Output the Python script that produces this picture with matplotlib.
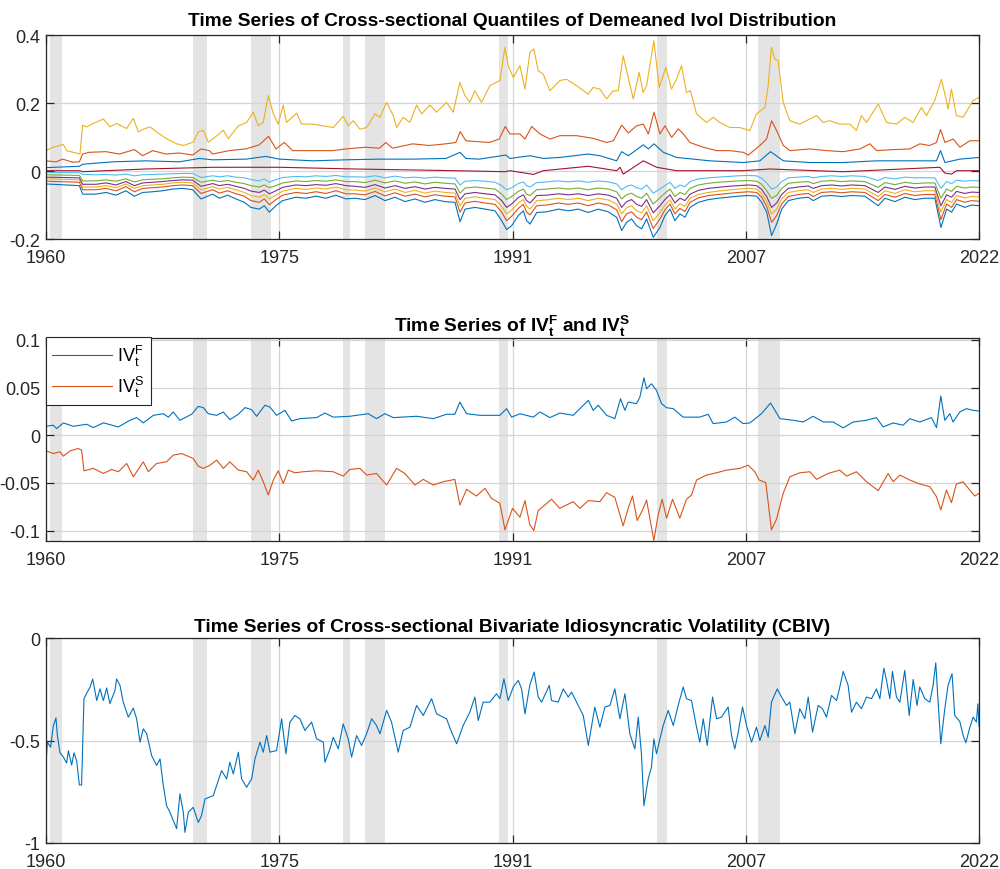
import numpy as np
import matplotlib
matplotlib.use('Agg')
import matplotlib.pyplot as plt

plt.rcParams['font.family'] = ['Liberation Sans', 'DejaVu Sans']
plt.rcParams['mathtext.fontset'] = 'custom'
plt.rcParams['mathtext.rm'] = 'Liberation Sans'
plt.rcParams['mathtext.it'] = 'Liberation Sans'
plt.rcParams['mathtext.bf'] = 'Liberation Sans:bold'

# NBER recessions (start, end) in decimal years
recessions = [(1960.25, 1961.08), (1969.92, 1970.86), (1973.83, 1975.17), (1980.03, 1980.5),
              (1981.5, 1982.86), (1990.55, 1991.17), (2001.2, 2001.87), (2007.98, 2009.5)]

# ---- top panel: quantiles of demeaned ivol ----
q_top_years = [1960.0, 1960.49, 1961.17, 1961.39, 1962.29, 1962.47, 1962.74, 1963.19, 1963.87, 1964.31,
               1964.76, 1965.44, 1965.89, 1966.22, 1966.56, 1967.01, 1967.46, 1968.13, 1968.81, 1969.26,
               1969.93, 1970.27, 1970.61, 1970.94, 1971.28, 1971.96, 1972.29, 1972.97, 1973.53, 1973.98,
               1974.31, 1974.65, 1974.99, 1975.33, 1975.66, 1976.0, 1976.22, 1976.9, 1977.24, 1978.02,
               1978.7, 1979.37, 1980.04, 1980.38, 1980.72, 1981.17, 1981.62, 1982.18, 1982.52, 1982.97,
               1983.42, 1983.64, 1984.09, 1984.54, 1984.99, 1985.33, 1985.89, 1986.34, 1987.01, 1987.46,
               1987.91, 1988.25, 1988.58, 1988.92, 1989.37, 1989.93, 1990.61, 1990.95, 1991.17, 1991.51,
               1991.96, 1992.3, 1992.63, 1992.9, 1993.19, 1993.53, 1993.98, 1994.65, 1995.1, 1995.78,
               1996.56, 1996.9, 1997.35, 1997.8, 1998.25, 1998.59, 1998.92, 1999.26, 1999.6, 2000.0,
               2000.27, 2000.5, 2000.99, 2001.35, 2001.8, 2002.18, 2002.52, 2002.86, 2003.19, 2003.46,
               2003.87, 2004.54, 2004.99, 2005.44, 2006.11, 2006.79, 2007.46, 2007.91, 2008.48, 2008.7,
               2008.92, 2009.15, 2009.37, 2009.71, 2010.16, 2010.83, 2011.28, 2011.96, 2012.41, 2012.85,
               2013.53, 2014.2, 2014.65, 2014.99, 2015.33, 2016.12, 2016.68, 2017.35, 2017.91, 2018.47,
               2019.04, 2019.37, 2019.93, 2020.38, 2020.72, 2020.83, 2021.06, 2021.39, 2021.84, 2022.52,
               2022.92]
q_top = [0.06, 0.07, 0.078, 0.06, 0.05, 0.135, 0.13, 0.14, 0.153, 0.13,
         0.14, 0.125, 0.155, 0.115, 0.123, 0.13, 0.115, 0.095, 0.08, 0.075,
         0.085, 0.115, 0.12, 0.085, 0.095, 0.12, 0.095, 0.133, 0.143, 0.173,
         0.133, 0.143, 0.222, 0.168, 0.138, 0.194, 0.143, 0.17, 0.138, 0.138,
         0.133, 0.128, 0.161, 0.133, 0.148, 0.123, 0.128, 0.168, 0.158, 0.202,
         0.163, 0.128, 0.158, 0.143, 0.194, 0.168, 0.194, 0.173, 0.202, 0.173,
         0.261, 0.222, 0.202, 0.236, 0.202, 0.251, 0.266, 0.364, 0.31, 0.275,
         0.31, 0.241, 0.349, 0.359, 0.295, 0.285, 0.236, 0.266, 0.27, 0.251,
         0.226, 0.246, 0.241, 0.212, 0.236, 0.236, 0.339, 0.275, 0.212, 0.29,
         0.231, 0.251, 0.383, 0.246, 0.305, 0.241, 0.27, 0.31, 0.231, 0.236,
         0.168, 0.143, 0.158, 0.143, 0.128, 0.128, 0.119, 0.168, 0.187, 0.251,
         0.364, 0.329, 0.325, 0.202, 0.148, 0.138, 0.148, 0.163, 0.143, 0.148,
         0.138, 0.138, 0.119, 0.163, 0.143, 0.197, 0.143, 0.138, 0.158, 0.143,
         0.187, 0.163, 0.207, 0.27, 0.207, 0.182, 0.241, 0.163, 0.158, 0.207,
         0.217]

q_second_years = [1960.0, 1960.67, 1961.12, 1961.8, 1962.25, 1962.47, 1962.92, 1964.04, 1964.94, 1965.96,
                  1966.52, 1967.19, 1968.09, 1968.99, 1969.89, 1970.45, 1971.01, 1971.24, 1972.36, 1973.48,
                  1974.38, 1975.01, 1975.51, 1976.07, 1976.63, 1977.98, 1979.33, 1980.22, 1981.57, 1982.47,
                  1982.92, 1983.37, 1984.72, 1985.84, 1986.97, 1987.64, 1987.93, 1988.31, 1989.21, 1989.89,
                  1990.56, 1990.97, 1991.29, 1991.96, 1992.3, 1992.75, 1993.31, 1993.99, 1994.66, 1995.78,
                  1996.91, 1997.81, 1998.26, 1998.82, 1999.27, 1999.83, 2000.28, 2000.62, 2001.0, 2001.4,
                  2001.74, 2002.19, 2002.64, 2002.98, 2003.42, 2004.32, 2005.22, 2006.12, 2007.02, 2007.36,
                  2008.14, 2008.59, 2008.93, 2009.27, 2009.72, 2010.17, 2011.51, 2012.64, 2013.76, 2014.89,
                  2015.56, 2016.01, 2017.13, 2018.26, 2018.93, 2019.6, 2020.05, 2020.32, 2020.62, 2021.18,
                  2021.63, 2022.3, 2022.92]
q_second = [0.03, 0.027, 0.035, 0.026, 0.027, 0.05, 0.055, 0.057, 0.05, 0.063,
            0.045, 0.06, 0.05, 0.053, 0.047, 0.065, 0.06, 0.05, 0.06, 0.065,
            0.077, 0.102, 0.065, 0.084, 0.06, 0.06, 0.06, 0.065, 0.07, 0.067,
            0.084, 0.067, 0.08, 0.075, 0.08, 0.084, 0.116, 0.089, 0.086, 0.084,
            0.094, 0.131, 0.109, 0.109, 0.094, 0.131, 0.109, 0.094, 0.104, 0.104,
            0.096, 0.084, 0.089, 0.135, 0.112, 0.133, 0.138, 0.109, 0.173, 0.109,
            0.133, 0.099, 0.124, 0.109, 0.084, 0.07, 0.06, 0.06, 0.055, 0.047,
            0.075, 0.094, 0.148, 0.119, 0.075, 0.06, 0.065, 0.06, 0.057, 0.065,
            0.08, 0.06, 0.063, 0.065, 0.08, 0.075, 0.084, 0.122, 0.084, 0.094,
            0.07, 0.089, 0.089]

q_third_years = [1960.0, 1962.25, 1962.47, 1964.49, 1966.74, 1968.99, 1970.34, 1971.24, 1973.48, 1974.83,
                 1975.73, 1977.98, 1980.22, 1982.47, 1984.72, 1986.97, 1987.93, 1988.31, 1989.21, 1991.01,
                 1991.29, 1992.64, 1993.54, 1994.66, 1996.57, 1997.36, 1998.48, 1998.82, 1999.27, 2000.28,
                 2000.62, 2001.0, 2001.63, 2002.53, 2004.77, 2007.02, 2008.14, 2008.86, 2009.72, 2011.51,
                 2013.76, 2016.01, 2018.26, 2020.05, 2020.32, 2020.62, 2021.63, 2022.92]
q_third = [0.01, 0.014, 0.02, 0.027, 0.03, 0.027, 0.037, 0.033, 0.035, 0.043,
           0.035, 0.03, 0.033, 0.035, 0.035, 0.037, 0.055, 0.037, 0.035, 0.047,
           0.037, 0.045, 0.037, 0.04, 0.05, 0.045, 0.03, 0.057, 0.045, 0.077,
           0.065, 0.08, 0.055, 0.04, 0.03, 0.025, 0.03, 0.057, 0.03, 0.025,
           0.025, 0.03, 0.03, 0.03, 0.06, 0.025, 0.035, 0.04]

q_mid_years = [1960.0, 1962.25, 1962.47, 1966.74, 1971.24, 1973.48, 1975.73, 1980.84, 1987.58, 1990.95,
               1991.29, 1992.86, 1993.54, 1996.57, 1998.48, 1998.71, 1998.93, 2000.28, 2001.18, 2002.53,
               2007.02, 2008.82, 2013.76, 2020.28, 2020.61, 2021.07, 2021.4, 2022.92]
q_mid = [0.001, 0.001, -0.002, 0.006, 0.011, 0.011, 0.011, 0.006, 0.001, -0.002,
         0.001, -0.01, 0.001, 0.014, 0.001, 0.011, -0.009, 0.03, 0.011, 0.001,
         0.001, 0.006, -0.002, 0.011, -0.006, -0.009, 0.001, 0.001]

low_years = [1960.0, 1962.25, 1962.47, 1963.37, 1964.04, 1964.72, 1965.39, 1965.96, 1966.52, 1967.19,
             1967.87, 1968.54, 1969.21, 1969.89, 1970.45, 1971.24, 1971.69, 1972.25, 1972.81, 1973.37,
             1973.82, 1974.38, 1974.72, 1975.06, 1975.51, 1975.96, 1976.85, 1977.53, 1978.2, 1978.88,
             1979.55, 1980.22,
             1980.84, 1981.51, 1982.19, 1982.86, 1983.54, 1984.21, 1984.88, 1985.56, 1986.23, 1986.91,
             1987.58, 1987.92, 1988.26, 1988.93, 1989.6, 1990.28, 1990.73, 1991.06, 1991.4, 1991.85,
             1992.19, 1992.41, 1992.64, 1993.09, 1993.76, 1994.55, 1995.22, 1995.9, 1996.57, 1997.24,
             1997.92, 1998.48, 1998.82, 1999.15, 1999.49, 1999.83, 2000.17, 2000.5, 2000.95, 2001.4,
             2001.74, 2002.08, 2002.41, 2002.75, 2003.09, 2003.43, 2003.99, 2004.66, 2005.34, 2006.01,
             2006.68, 2007.36, 2007.92, 2008.26, 2008.6, 2008.93, 2009.27, 2009.61, 2010.06, 2010.73,
             2011.4, 2011.74, 2012.3, 2012.98, 2013.65, 2014.33, 2015.22, 2016.12, 2016.57, 2017.25,
             2017.92, 2018.59, 2019.27, 2019.94, 2020.35, 2020.73, 2021.07, 2021.4, 2021.96, 2022.41,
             2022.92]
q_low6 = [-0.004, -0.005, -0.01, -0.011, -0.01, -0.012, -0.009, -0.014, -0.011, -0.01,
          -0.009, -0.008, -0.007, -0.007, -0.019, -0.014, -0.017, -0.014, -0.018, -0.02,
          -0.025, -0.029, -0.023, -0.033, -0.025, -0.019, -0.016, -0.017, -0.014, -0.016,
          -0.013, -0.017,
          -0.017, -0.018, -0.014, -0.02, -0.015, -0.02, -0.018, -0.021, -0.018, -0.02,
          -0.021, -0.041, -0.03, -0.028, -0.03, -0.033, -0.043, -0.055, -0.049, -0.037,
          -0.032, -0.043, -0.047, -0.034, -0.032, -0.029, -0.032, -0.029, -0.033, -0.029,
          -0.032, -0.038, -0.055, -0.045, -0.041, -0.049, -0.053, -0.041, -0.065, -0.053,
          -0.043, -0.033, -0.051, -0.041, -0.046, -0.031, -0.023, -0.02, -0.018, -0.016,
          -0.014, -0.013, -0.014, -0.021, -0.035, -0.053, -0.047, -0.031, -0.02, -0.018,
          -0.016, -0.02, -0.016, -0.014, -0.016, -0.014, -0.016, -0.028, -0.019, -0.023,
          -0.018, -0.02, -0.02, -0.02, -0.051, -0.031, -0.037, -0.027, -0.03, -0.028,
          -0.029]
q_low5 = [-0.011, -0.013, -0.029, -0.029, -0.026, -0.03, -0.023, -0.032, -0.026, -0.024,
          -0.023, -0.02, -0.018, -0.019, -0.033, -0.027, -0.031, -0.028, -0.033, -0.037,
          -0.043, -0.047, -0.041, -0.049, -0.043, -0.035, -0.029, -0.031, -0.028, -0.03,
          -0.026, -0.031,
          -0.031, -0.034, -0.027, -0.035, -0.029, -0.036, -0.032, -0.038, -0.033, -0.036,
          -0.038, -0.065, -0.05, -0.047, -0.05, -0.053, -0.068, -0.084, -0.075, -0.06,
          -0.053, -0.068, -0.072, -0.055, -0.053, -0.05, -0.053, -0.05, -0.055, -0.05,
          -0.053, -0.061, -0.082, -0.07, -0.065, -0.075, -0.08, -0.065, -0.097, -0.079,
          -0.065, -0.053, -0.075, -0.063, -0.069, -0.051, -0.041, -0.036, -0.033, -0.031,
          -0.029, -0.028, -0.03, -0.039, -0.058, -0.08, -0.072, -0.051, -0.036, -0.033,
          -0.031, -0.037, -0.03, -0.028, -0.031, -0.029, -0.031, -0.048, -0.034, -0.04,
          -0.033, -0.037, -0.035, -0.035, -0.08, -0.053, -0.06, -0.045, -0.05, -0.047,
          -0.048]
q_low4 = [-0.018, -0.02, -0.039, -0.039, -0.035, -0.041, -0.031, -0.043, -0.035, -0.033,
          -0.031, -0.028, -0.026, -0.027, -0.045, -0.037, -0.043, -0.039, -0.045, -0.051,
          -0.059, -0.063, -0.056, -0.067, -0.058, -0.048, -0.041, -0.043, -0.04, -0.042,
          -0.037, -0.043,
          -0.045, -0.048, -0.04, -0.05, -0.043, -0.051, -0.046, -0.053, -0.048, -0.051,
          -0.053, -0.084, -0.067, -0.063, -0.067, -0.07, -0.087, -0.107, -0.097, -0.078,
          -0.07, -0.087, -0.094, -0.072, -0.071, -0.067, -0.07, -0.067, -0.072, -0.067,
          -0.071, -0.08, -0.107, -0.09, -0.084, -0.098, -0.104, -0.084, -0.123, -0.102,
          -0.084, -0.07, -0.094, -0.08, -0.087, -0.068, -0.057, -0.051, -0.048, -0.045,
          -0.043, -0.041, -0.043, -0.054, -0.075, -0.107, -0.094, -0.069, -0.051, -0.047,
          -0.044, -0.051, -0.043, -0.041, -0.044, -0.041, -0.043, -0.063, -0.047, -0.054,
          -0.045, -0.05, -0.047, -0.047, -0.102, -0.07, -0.077, -0.06, -0.066, -0.062,
          -0.063]
q_low3 = [-0.023, -0.026, -0.047, -0.047, -0.043, -0.049, -0.038, -0.051, -0.043, -0.041,
          -0.039, -0.035, -0.033, -0.035, -0.055, -0.046, -0.053, -0.048, -0.055, -0.063,
          -0.072, -0.077, -0.069, -0.082, -0.071, -0.059, -0.051, -0.054, -0.05, -0.053,
          -0.047, -0.055,
          -0.056, -0.059, -0.05, -0.061, -0.053, -0.063, -0.057, -0.065, -0.059, -0.063,
          -0.065, -0.102, -0.08, -0.076, -0.08, -0.084, -0.104, -0.126, -0.115, -0.094,
          -0.084, -0.104, -0.112, -0.087, -0.085, -0.08, -0.084, -0.08, -0.087, -0.08,
          -0.085, -0.097, -0.126, -0.108, -0.102, -0.117, -0.123, -0.102, -0.146, -0.122,
          -0.1, -0.084, -0.112, -0.096, -0.104, -0.08, -0.069, -0.063, -0.059, -0.056,
          -0.053, -0.051, -0.053, -0.066, -0.09, -0.126, -0.112, -0.082, -0.063, -0.058,
          -0.055, -0.063, -0.053, -0.051, -0.054, -0.051, -0.053, -0.075, -0.058, -0.066,
          -0.055, -0.061, -0.058, -0.058, -0.121, -0.084, -0.092, -0.072, -0.079, -0.075,
          -0.076]
q_low2 = [-0.03, -0.033, -0.055, -0.055, -0.051, -0.058, -0.046, -0.061, -0.051, -0.049,
          -0.047, -0.043, -0.041, -0.043, -0.066, -0.055, -0.065, -0.058, -0.067, -0.074,
          -0.087, -0.092, -0.082, -0.099, -0.084, -0.071, -0.063, -0.066, -0.061, -0.066,
          -0.058, -0.067,
          -0.067, -0.07, -0.06, -0.073, -0.064, -0.074, -0.068, -0.076, -0.07, -0.074,
          -0.076, -0.121, -0.094, -0.089, -0.094, -0.098, -0.121, -0.146, -0.133, -0.11,
          -0.098, -0.121, -0.129, -0.102, -0.1, -0.094, -0.098, -0.094, -0.102, -0.094,
          -0.1, -0.114, -0.149, -0.126, -0.12, -0.136, -0.143, -0.12, -0.169, -0.141,
          -0.114, -0.097, -0.126, -0.11, -0.119, -0.092, -0.079, -0.072, -0.069, -0.066,
          -0.063, -0.061, -0.063, -0.077, -0.104, -0.151, -0.131, -0.097, -0.075, -0.069,
          -0.066, -0.075, -0.063, -0.061, -0.064, -0.061, -0.063, -0.087, -0.069, -0.077,
          -0.066, -0.072, -0.069, -0.069, -0.143, -0.097, -0.107, -0.084, -0.092, -0.087,
          -0.089]
q_low1 = [-0.038, -0.043, -0.068, -0.068, -0.063, -0.071, -0.058, -0.074, -0.063, -0.061,
          -0.058, -0.053, -0.051, -0.055, -0.082, -0.068, -0.08, -0.071, -0.082, -0.092,
          -0.107, -0.112, -0.102, -0.121, -0.102, -0.087, -0.077, -0.08, -0.074, -0.08,
          -0.071, -0.082,
          -0.08, -0.084, -0.072, -0.087, -0.077, -0.09, -0.082, -0.092, -0.084, -0.09,
          -0.092, -0.149, -0.112, -0.107, -0.112, -0.117, -0.146, -0.172, -0.161, -0.131,
          -0.117, -0.146, -0.156, -0.122, -0.12, -0.112, -0.117, -0.112, -0.122, -0.112,
          -0.12, -0.136, -0.175, -0.151, -0.141, -0.161, -0.17, -0.141, -0.195, -0.166,
          -0.131, -0.112, -0.146, -0.126, -0.136, -0.107, -0.092, -0.084, -0.08, -0.077,
          -0.074, -0.072, -0.074, -0.092, -0.121, -0.19, -0.156, -0.112, -0.087, -0.08,
          -0.077, -0.087, -0.074, -0.072, -0.075, -0.072, -0.074, -0.102, -0.08, -0.09,
          -0.077, -0.084, -0.08, -0.08, -0.166, -0.112, -0.121, -0.097, -0.107, -0.1,
          -0.102]

# ---- middle panel: IV^F and IV^S ----
ivf_years = [1960.0, 1960.49, 1960.72, 1961.17, 1961.84, 1962.74, 1963.19, 1963.87, 1964.88, 1965.66,
             1966.11, 1966.56, 1967.24, 1967.91, 1968.25, 1968.58, 1969.03, 1969.82, 1970.27, 1970.61,
             1970.94, 1971.51, 1971.96, 1972.4, 1972.97, 1973.42, 1973.87, 1974.2, 1974.76, 1975.1,
             1975.55, 1976.11, 1976.56, 1977.12, 1978.25, 1978.81, 1979.37, 1980.49, 1981.73, 1982.29,
             1982.85, 1983.42, 1984.99, 1986.11, 1987.01, 1987.57, 1987.91, 1988.36, 1989.26, 1990.61,
             1991.06, 1991.4, 1991.96, 1992.86, 1993.31, 1993.98, 1994.65, 1995.55, 1996.57, 1996.9,
             1997.24, 1997.8, 1998.36, 1998.74, 1999.04, 1999.26, 1999.82, 2000.05, 2000.32, 2000.5,
             2000.83, 2001.17, 2001.51, 2001.85, 2002.3, 2002.97, 2004.09, 2004.65, 2004.99, 2005.89,
             2006.45, 2007.01, 2007.46, 2008.25, 2008.86, 2009.49, 2010.39, 2011.06, 2011.73, 2012.41,
             2013.08, 2013.76, 2014.43, 2015.33, 2016.0, 2016.45, 2017.13, 2017.8, 2018.25, 2018.92,
             2019.71, 2020.05, 2020.34, 2020.61, 2020.95, 2021.17, 2021.62, 2022.07, 2022.52, 2022.92]
ivf = [0.0094, 0.0105, 0.007, 0.0129, 0.0094, 0.0115, 0.008, 0.013, 0.0087, 0.0157,
       0.0185, 0.013, 0.0209, 0.0226, 0.019, 0.0244, 0.0157, 0.022, 0.0303, 0.029,
       0.0226, 0.0209, 0.0244, 0.0164, 0.022, 0.029, 0.0268, 0.0199, 0.0314, 0.0296,
       0.0209, 0.0261, 0.015, 0.0174, 0.0185, 0.0233, 0.019, 0.0199, 0.0226, 0.0174,
       0.0226, 0.0185, 0.0199, 0.0174, 0.022, 0.022, 0.0348, 0.0226, 0.0209, 0.0209,
       0.0279, 0.019, 0.0226, 0.019, 0.0244, 0.0185, 0.0233, 0.0209, 0.0366, 0.0261,
       0.0314, 0.0209, 0.0174, 0.0383, 0.0261, 0.0348, 0.0331, 0.0401, 0.0603, 0.0488,
       0.054, 0.047, 0.0331, 0.0289, 0.0279, 0.019, 0.019, 0.022, 0.0122, 0.0139,
       0.019, 0.0122, 0.0129, 0.0226, 0.0338, 0.0174, 0.0157, 0.0139, 0.0199, 0.0139,
       0.0139, 0.0077, 0.0139, 0.0157, 0.0185, 0.0087, 0.0129, 0.0105, 0.0174, 0.0139,
       0.0185, 0.008, 0.0411, 0.0157, 0.0226, 0.0139, 0.0244, 0.0279, 0.0261, 0.0254]

ivs_years = [1960.0, 1960.49, 1960.94, 1961.17, 1961.62, 1962.18, 1962.4, 1962.56, 1963.19, 1963.87,
             1964.43, 1964.88, 1965.44, 1965.89, 1966.56, 1966.9, 1967.46, 1968.13, 1968.58, 1969.15,
             1969.93, 1970.27, 1970.61, 1971.06, 1971.51, 1971.96, 1972.4, 1972.97, 1973.53, 1973.98,
             1974.31, 1974.65, 1974.99, 1975.33, 1975.66, 1976.0, 1976.34, 1976.79, 1977.35, 1978.25,
             1979.37, 1980.04, 1980.49, 1981.17, 1981.62, 1982.29, 1982.97, 1983.64, 1984.2, 1984.88,
             1985.44, 1986.11, 1986.79, 1987.57, 1987.91, 1988.36, 1989.03, 1989.6, 1990.04, 1990.61,
             1990.95, 1991.46, 1991.96, 1992.3, 1992.63, 1992.9, 1993.19, 1994.09, 1994.65, 1995.55,
             1996.0, 1996.57, 1997.35, 1997.8, 1998.36, 1998.92, 1999.26, 1999.55, 1999.87, 2000.23,
             2000.5, 2000.99, 2001.28, 2001.55, 2001.85, 2002.25, 2002.74, 2003.19, 2003.53, 2003.87,
             2004.54, 2005.22, 2005.89, 2006.79, 2007.35, 2007.8, 2008.09, 2008.54, 2008.92, 2009.26,
             2009.71, 2010.16, 2010.83, 2011.51, 2011.96, 2012.74, 2013.53, 2013.98, 2014.65, 2015.33,
             2016.12, 2016.79, 2017.13, 2017.58, 2018.25, 2018.92, 2019.6, 2020.05, 2020.34, 2020.72,
             2021.06, 2021.39, 2021.84, 2022.29, 2022.63, 2022.92]
ivs = [-0.0164, -0.0192, -0.0174, -0.022, -0.0164, -0.0139, -0.0157, -0.0373, -0.0348, -0.0401,
       -0.0359, -0.0383, -0.0296, -0.0436, -0.0279, -0.0383, -0.0296, -0.0279, -0.0209, -0.0192,
       -0.0244, -0.0324, -0.0348, -0.0314, -0.0261, -0.0348, -0.0279, -0.0366, -0.0383, -0.047,
       -0.0366, -0.0488, -0.0627, -0.047, -0.0373, -0.0505, -0.0366, -0.0394, -0.0383, -0.0373,
       -0.0383, -0.0429, -0.0359, -0.0348, -0.0418, -0.0401, -0.0523, -0.0348, -0.0401, -0.0523,
       -0.0463, -0.0523, -0.0488, -0.0463, -0.0732, -0.0568, -0.0638, -0.0557, -0.0662, -0.0714,
       -0.0993, -0.0767, -0.0861, -0.0686, -0.0941, -0.1, -0.0791, -0.0672, -0.0767, -0.0697,
       -0.0767, -0.0686, -0.0697, -0.0603, -0.0652, -0.0951, -0.0767, -0.0638, -0.0895, -0.0784,
       -0.0679, -0.1105, -0.0836, -0.0672, -0.0871, -0.0672, -0.0871, -0.0672, -0.0627, -0.047,
       -0.0418, -0.0394, -0.0366, -0.0348, -0.0314, -0.0383, -0.047, -0.0498, -0.0993, -0.0882,
       -0.061, -0.0436, -0.0394, -0.0383, -0.0463, -0.0401, -0.0366, -0.0429, -0.0383, -0.0488,
       -0.0582, -0.0401, -0.0488, -0.0418, -0.047, -0.0512, -0.054, -0.0645, -0.0784, -0.0575,
       -0.0707, -0.0512, -0.0488, -0.0575, -0.0638, -0.061]

# ---- bottom panel: CBIV ----
cbiv_years = [1960.0, 1960.09, 1960.31, 1960.49, 1960.67, 1960.76, 1960.94, 1961.17, 1961.39, 1961.51,
              1961.73, 1961.89, 1962.07, 1962.25, 1962.4, 1962.56, 1962.74, 1962.97, 1963.15, 1963.42,
              1963.64, 1963.87, 1964.09, 1964.31, 1964.65, 1964.76, 1964.99, 1965.21, 1965.55, 1965.89,
              1966.11, 1966.34, 1966.56, 1966.79, 1967.12, 1967.46, 1967.69, 1967.91, 1968.13, 1968.36,
              1968.58, 1968.81, 1969.03, 1969.26, 1969.37, 1969.6, 1969.93, 1970.27, 1970.49, 1970.72,
              1971.28, 1971.84, 1972.18, 1972.4, 1972.63, 1972.97, 1973.19, 1973.53, 1973.87, 1974.09,
              1974.43, 1974.65, 1974.88, 1975.1, 1975.55, 1975.89, 1976.18, 1976.45, 1976.79, 1977.12,
              1977.46, 1977.91, 1978.25, 1978.7, 1978.81, 1979.15, 1979.37, 1979.71, 1980.04, 1980.38,
              1980.61, 1980.94, 1981.28, 1981.62, 1981.96, 1982.29, 1982.52, 1982.97, 1983.3, 1983.75,
              1984.09, 1984.54, 1984.99, 1985.44, 1986.0, 1986.34, 1987.01, 1987.35, 1987.69, 1988.13,
              1988.58, 1988.92, 1989.15, 1989.48, 1989.93, 1990.38, 1990.61, 1990.88, 1991.17, 1991.51,
              1991.85, 1992.07, 1992.3, 1992.63, 1992.92, 1993.19, 1993.42, 1993.94, 1994.09, 1994.54,
              1994.88, 1995.22, 1995.44, 1995.78, 1996.23, 1996.57, 1997.01, 1997.35, 1997.69, 1998.03,
              1998.36, 1998.7, 1999.04, 1999.37, 1999.71, 1999.94, 2000.16, 2000.32, 2000.61, 2000.83,
              2000.99, 2001.17, 2001.4, 2001.62, 2001.96, 2002.3, 2002.63, 2002.97, 2003.19, 2003.53,
              2003.87, 2004.09, 2004.32, 2004.59, 2004.95, 2005.22, 2005.55, 2006.0, 2006.23, 2006.45,
              2006.68, 2006.97, 2007.24, 2007.58, 2007.91, 2008.14, 2008.48, 2008.7, 2008.92, 2009.31,
              2009.6, 2009.94, 2010.16, 2010.5, 2010.83, 2011.17, 2011.4, 2011.69, 2012.07, 2012.36,
              2012.63, 2012.97, 2013.31, 2013.53, 2013.76, 2014.09, 2014.32, 2014.65, 2014.99, 2015.33,
              2015.67, 2016.0, 2016.23, 2016.5, 2016.68, 2016.9, 2017.08, 2017.35, 2017.58, 2017.91,
              2018.21, 2018.48, 2018.74, 2018.92, 2019.26, 2019.6, 2019.82, 2020.0, 2020.16, 2020.34,
              2020.61, 2020.83, 2021.1, 2021.28, 2021.62, 2021.85, 2022.03, 2022.3, 2022.52, 2022.74,
              2022.84, 2022.92]
cbiv = [-0.614, -0.508, -0.533, -0.43, -0.39, -0.47, -0.56, -0.58, -0.61, -0.55,
        -0.62, -0.56, -0.6, -0.717, -0.717, -0.296, -0.27, -0.24, -0.2, -0.305,
        -0.248, -0.305, -0.244, -0.32, -0.256, -0.2, -0.231, -0.313, -0.386, -0.342,
        -0.394, -0.508, -0.443, -0.467, -0.573, -0.622, -0.59, -0.72, -0.818, -0.85,
        -0.89, -0.93, -0.76, -0.85, -0.948, -0.85, -0.826, -0.9, -0.866, -0.785,
        -0.769, -0.647, -0.687, -0.606, -0.663, -0.557, -0.687, -0.728, -0.687, -0.59,
        -0.508, -0.557, -0.476, -0.557, -0.549, -0.394, -0.565, -0.41, -0.378, -0.394,
        -0.451, -0.41, -0.492, -0.508, -0.606, -0.541, -0.484, -0.541, -0.419, -0.492,
        -0.581, -0.476, -0.524, -0.467, -0.394, -0.427, -0.467, -0.353, -0.41, -0.557,
        -0.451, -0.435, -0.329, -0.378, -0.296, -0.37, -0.394, -0.459, -0.516, -0.427,
        -0.362, -0.288, -0.402, -0.313, -0.313, -0.272, -0.296, -0.199, -0.305, -0.239,
        -0.207, -0.248, -0.37, -0.228, -0.166, -0.288, -0.313, -0.231, -0.305, -0.313,
        -0.248, -0.288, -0.264, -0.313, -0.378, -0.524, -0.337, -0.435, -0.337, -0.329,
        -0.248, -0.394, -0.272, -0.467, -0.541, -0.386, -0.573, -0.818, -0.687, -0.63,
        -0.492, -0.565, -0.492, -0.427, -0.353, -0.427, -0.329, -0.239, -0.296, -0.305,
        -0.435, -0.508, -0.394, -0.524, -0.288, -0.394, -0.386, -0.337, -0.476, -0.541,
        -0.459, -0.337, -0.427, -0.508, -0.435, -0.5, -0.427, -0.484, -0.313, -0.248,
        -0.288, -0.329, -0.313, -0.467, -0.345, -0.394, -0.288, -0.459, -0.329, -0.345,
        -0.386, -0.28, -0.305, -0.239, -0.163, -0.231, -0.362, -0.313, -0.345, -0.288,
        -0.296, -0.248, -0.296, -0.147, -0.207, -0.296, -0.163, -0.288, -0.313, -0.158,
        -0.378, -0.202, -0.329, -0.239, -0.296, -0.313, -0.231, -0.121, -0.313, -0.516,
        -0.345, -0.231, -0.174, -0.378, -0.407, -0.476, -0.511, -0.435, -0.386, -0.41,
        -0.321, -0.43]

c_blue = (0, 0.447, 0.741)
c_orange = (0.85, 0.325, 0.098)
c_yellow = (0.929, 0.694, 0.125)
c_purple = (0.494, 0.184, 0.556)
c_green = (0.466, 0.674, 0.188)
c_lblue = (0.301, 0.745, 0.933)
c_dred = (0.635, 0.078, 0.184)

x_start, x_end = 1960.0, 2022 + 11 / 12
xticks = np.linspace(x_start, x_end, 5)
xticklabels = ['1960', '1975', '1991', '2007', '2022']

fig = plt.figure(figsize=(10, 8.7), dpi=100)
ax1 = fig.add_axes([0.046, 0.7241, 0.933, 0.2345])
ax2 = fig.add_axes([0.046, 0.377, 0.933, 0.2333])
ax3 = fig.add_axes([0.046, 0.0299, 0.933, 0.2356])


def style_axis(ax):
    for s, e in recessions:
        ax.axvspan(s, e, color='#e4e4e4', lw=0, zorder=0)
    ax.set_xlim(x_start, x_end)
    ax.set_xticks(xticks)
    ax.set_xticklabels(xticklabels)
    ax.grid(True, color='#d4d4d4', linewidth=0.9)
    ax.tick_params(direction='in', length=6, width=0.9, top=True, right=True,
                   labelsize=13, colors='#262626')
    ax.tick_params(axis='x', pad=7)
    ax.tick_params(axis='y', pad=4)
    for sp in ax.spines.values():
        sp.set_color('#262626')
        sp.set_linewidth(0.9)


lw = 0.8
ax1.plot(low_years, q_low1, color=c_blue, lw=lw)
ax1.plot(low_years, q_low2, color=c_orange, lw=lw)
ax1.plot(low_years, q_low3, color=c_yellow, lw=lw)
ax1.plot(low_years, q_low4, color=c_purple, lw=lw)
ax1.plot(low_years, q_low5, color=c_green, lw=lw)
ax1.plot(low_years, q_low6, color=c_lblue, lw=lw)
ax1.plot(q_mid_years, q_mid, color=c_dred, lw=lw)
ax1.plot(q_third_years, q_third, color=c_blue, lw=lw)
ax1.plot(q_second_years, q_second, color=c_orange, lw=lw)
ax1.plot(q_top_years, q_top, color=c_yellow, lw=lw)
style_axis(ax1)
ax1.set_ylim(-0.2, 0.4)
ax1.set_yticks([-0.2, 0, 0.2, 0.4])
ax1.set_yticklabels(['-0.2', '0', '0.2', '0.4'])
ax1.set_title('Time Series of Cross-sectional Quantiles of Demeaned Ivol Distribution',
              fontsize=13.8, fontweight='bold', pad=7)

ax2.plot(ivf_years, ivf, color=c_blue, lw=lw, label=r'IV$_\mathrm{t}^\mathrm{F}$')
ax2.plot(ivs_years, ivs, color=c_orange, lw=lw, label=r'IV$_\mathrm{t}^\mathrm{S}$')
style_axis(ax2)
ax2.set_ylim(-0.111, 0.102)
ax2.set_yticks([-0.1, -0.05, 0, 0.05, 0.1])
ax2.set_yticklabels(['-0.1', '-0.05', '0', '0.05', '0.1'])
ax2.set_title(r'Time Series of $\mathbf{IV}_\mathbf{t}^\mathbf{F}$ and $\mathbf{IV}_\mathbf{t}^\mathbf{S}$',
              fontsize=13.8, fontweight='bold', pad=5)
leg = ax2.legend(loc='upper left', bbox_to_anchor=(0, 1.005), borderaxespad=0, fontsize=13,
                 handlelength=3.3, handletextpad=0.3, borderpad=0.35, labelspacing=0.3,
                 fancybox=False, framealpha=1, edgecolor='#262626')
leg.get_frame().set_linewidth(0.8)

ax3.plot(cbiv_years, cbiv, color=c_blue, lw=lw)
style_axis(ax3)
ax3.set_ylim(-1, 0)
ax3.set_yticks([-1, -0.5, 0])
ax3.set_yticklabels(['-1', '-0.5', '0'])
ax3.set_title('Time Series of Cross-sectional Bivariate Idiosyncratic Volatility (CBIV)',
              fontsize=13.8, fontweight='bold', pad=5)

plt.savefig('out.png', dpi=100)
